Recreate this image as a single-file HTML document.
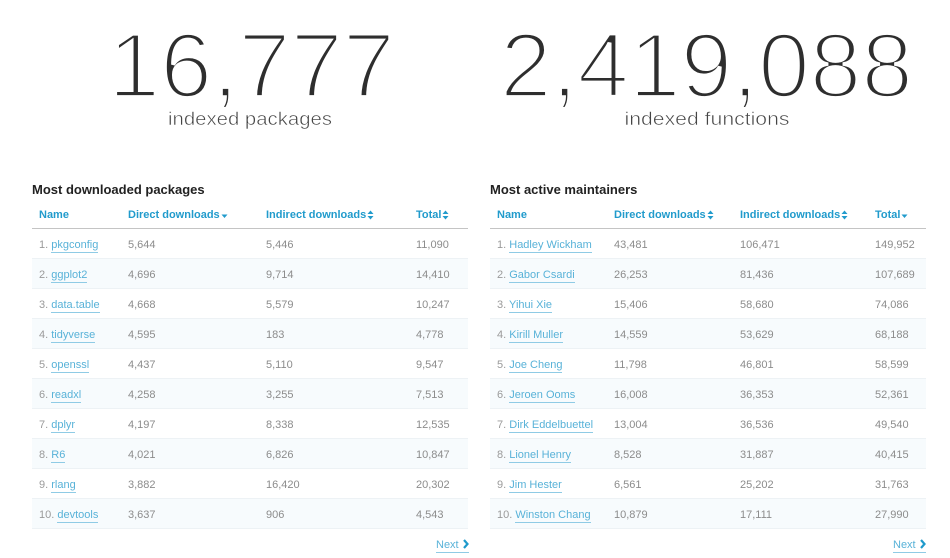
<!DOCTYPE html>
<html><head><meta charset="utf-8"><style>
*{margin:0;padding:0;box-sizing:border-box}
html,body{width:950px;height:558px;background:#fff;overflow:hidden;font-family:"Liberation Sans",sans-serif}
.big{position:absolute;left:0;top:0}
.title{position:absolute;top:182px;font-weight:bold;font-size:13px;color:#222}
table{position:absolute;top:200px;border-collapse:collapse;table-layout:fixed;width:436px;font-size:11px}
th{height:28px;border-bottom:1px solid #c4c4c4;text-align:left;color:#219bcc;font-weight:bold;padding:0 0 7px 7px;vertical-align:bottom;white-space:nowrap}
td{height:30px;border-bottom:1px solid #edf2f5;padding:3px 0 0 7px;color:#8c8c8c;white-space:nowrap}
tr.e td{background:#f7fbfd}
td a{color:#58b2d8;text-decoration:none;border-bottom:1px solid #8fcbe5;padding-bottom:1px}
.r{color:#9a9a9a}
svg.s{display:inline-block;vertical-align:middle;margin-left:1px}
.next{position:absolute;top:539px;font-size:11px;color:#58b2d8;border-bottom:1px solid #8fcbe5;padding-bottom:1px;white-space:nowrap}
.next svg{display:inline-block;vertical-align:-1px;margin-left:4px}
</style></head><body>
<svg class="big" width="950" height="140" xmlns="http://www.w3.org/2000/svg">
<g font-family="Liberation Sans, sans-serif" font-size="92" fill="#2e2e2e" stroke="#fff" stroke-width="3.8" stroke-linejoin="miter">
<text x="108" y="97" textLength="287" lengthAdjust="spacingAndGlyphs">16<tspan stroke-width="3.4">,</tspan>777</text>
<text x="500" y="97" textLength="413" lengthAdjust="spacingAndGlyphs">2<tspan stroke-width="3.4">,</tspan>419<tspan stroke-width="3.4">,</tspan>088</text>
</g>
<g font-family="Liberation Sans, sans-serif" font-size="18.5" fill="#444" stroke="#fff" stroke-width="0.5" text-anchor="middle">
<text x="250" y="125" textLength="164" lengthAdjust="spacingAndGlyphs">indexed packages</text>
<text x="707" y="125" textLength="165" lengthAdjust="spacingAndGlyphs">indexed functions</text>
</g>
</svg>

<div class="title" style="left:32px">Most downloaded packages</div>
<div class="title" style="left:490px">Most active maintainers</div>

<table style="left:32px">
<colgroup><col style="width:89px"><col style="width:138px"><col style="width:150px"><col style="width:59px"></colgroup>
<tr><th>Name</th><th>Direct downloads<svg class="s" width="7" height="8"><path d="M0.5 3.5 L6.5 3.5 L3.5 7 Z" fill="#219bcc"/></svg></th><th>Indirect downloads<svg class="s" width="7" height="10"><path d="M0.5 4 L6.5 4 L3.5 0.5 Z M0.5 6 L6.5 6 L3.5 9.5 Z" fill="#219bcc"/></svg></th><th>Total<svg class="s" width="7" height="10"><path d="M0.5 4 L6.5 4 L3.5 0.5 Z M0.5 6 L6.5 6 L3.5 9.5 Z" fill="#219bcc"/></svg></th></tr>
<tr><td><span class="r">1.</span> <a>pkgconfig</a></td><td>5,644</td><td>5,446</td><td>11,090</td></tr>
<tr class="e"><td><span class="r">2.</span> <a>ggplot2</a></td><td>4,696</td><td>9,714</td><td>14,410</td></tr>
<tr><td><span class="r">3.</span> <a>data.table</a></td><td>4,668</td><td>5,579</td><td>10,247</td></tr>
<tr class="e"><td><span class="r">4.</span> <a>tidyverse</a></td><td>4,595</td><td>183</td><td>4,778</td></tr>
<tr><td><span class="r">5.</span> <a>openssl</a></td><td>4,437</td><td>5,110</td><td>9,547</td></tr>
<tr class="e"><td><span class="r">6.</span> <a>readxl</a></td><td>4,258</td><td>3,255</td><td>7,513</td></tr>
<tr><td><span class="r">7.</span> <a>dplyr</a></td><td>4,197</td><td>8,338</td><td>12,535</td></tr>
<tr class="e"><td><span class="r">8.</span> <a>R6</a></td><td>4,021</td><td>6,826</td><td>10,847</td></tr>
<tr><td><span class="r">9.</span> <a>rlang</a></td><td>3,882</td><td>16,420</td><td>20,302</td></tr>
<tr class="e"><td><span class="r">10.</span> <a>devtools</a></td><td>3,637</td><td>906</td><td>4,543</td></tr>
</table>

<table style="left:490px">
<colgroup><col style="width:117px"><col style="width:126px"><col style="width:135px"><col style="width:58px"></colgroup>
<tr><th>Name</th><th>Direct downloads<svg class="s" width="7" height="10"><path d="M0.5 4 L6.5 4 L3.5 0.5 Z M0.5 6 L6.5 6 L3.5 9.5 Z" fill="#219bcc"/></svg></th><th>Indirect downloads<svg class="s" width="7" height="10"><path d="M0.5 4 L6.5 4 L3.5 0.5 Z M0.5 6 L6.5 6 L3.5 9.5 Z" fill="#219bcc"/></svg></th><th>Total<svg class="s" width="7" height="8"><path d="M0.5 3.5 L6.5 3.5 L3.5 7 Z" fill="#219bcc"/></svg></th></tr>
<tr><td><span class="r">1.</span> <a>Hadley Wickham</a></td><td>43,481</td><td>106,471</td><td>149,952</td></tr>
<tr class="e"><td><span class="r">2.</span> <a>Gabor Csardi</a></td><td>26,253</td><td>81,436</td><td>107,689</td></tr>
<tr><td><span class="r">3.</span> <a>Yihui Xie</a></td><td>15,406</td><td>58,680</td><td>74,086</td></tr>
<tr class="e"><td><span class="r">4.</span> <a>Kirill Muller</a></td><td>14,559</td><td>53,629</td><td>68,188</td></tr>
<tr><td><span class="r">5.</span> <a>Joe Cheng</a></td><td>11,798</td><td>46,801</td><td>58,599</td></tr>
<tr class="e"><td><span class="r">6.</span> <a>Jeroen Ooms</a></td><td>16,008</td><td>36,353</td><td>52,361</td></tr>
<tr><td><span class="r">7.</span> <a>Dirk Eddelbuettel</a></td><td>13,004</td><td>36,536</td><td>49,540</td></tr>
<tr class="e"><td><span class="r">8.</span> <a>Lionel Henry</a></td><td>8,528</td><td>31,887</td><td>40,415</td></tr>
<tr><td><span class="r">9.</span> <a>Jim Hester</a></td><td>6,561</td><td>25,202</td><td>31,763</td></tr>
<tr class="e"><td><span class="r">10.</span> <a>Winston Chang</a></td><td>10,879</td><td>17,111</td><td>27,990</td></tr>
</table>

<div class="next" style="left:436px">Next<svg width="6" height="10"><path d="M1 1 L4.5 5 L1 9" fill="none" stroke="#1f9acb" stroke-width="2.2"/></svg></div>
<div class="next" style="left:893px">Next<svg width="6" height="10"><path d="M1 1 L4.5 5 L1 9" fill="none" stroke="#1f9acb" stroke-width="2.2"/></svg></div>
</body></html>
